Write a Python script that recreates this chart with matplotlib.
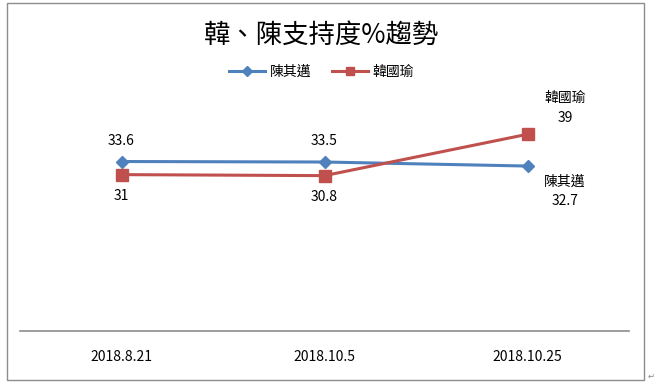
import matplotlib.pyplot as plt
from matplotlib.patches import Rectangle

plt.rcParams["font.family"] = ["Noto Sans CJK TC", "DejaVu Sans"]

dates = ["2018.8.21", "2018.10.5", "2018.10.25"]
chen = [33.6, 33.5, 32.7]
han = [31, 30.8, 39]
chen_name = "陳其邁"
han_name = "韓國瑜"
title = "韓、陳支持度%趨勢"

blue = "#4F81BD"
red = "#C0504D"

fig = plt.figure(figsize=(6.56, 3.86), dpi=100)
ax = fig.add_axes([20 / 656, 55 / 386, 609 / 656, 227 / 386])

x = list(range(len(dates)))
ax.plot(x, chen, color=blue, lw=2.2, marker="D", ms=6, label=chen_name)
ax.plot(x, han, color=red, lw=2.2, marker="s", ms=8, label=han_name)

ax.set_xlim(-0.5, 2.5)
ax.set_ylim(0, 45)
ax.set_yticks([])
ax.set_xticks(x)
ax.set_xticklabels(dates, fontsize=10)
ax.tick_params(axis="x", length=0, pad=14)
for side in ["top", "left", "right"]:
    ax.spines[side].set_visible(False)
ax.spines["bottom"].set_color("#8C8C8C")
ax.spines["bottom"].set_linewidth(1.2)

# data labels: first two points
for i in range(2):
    ax.annotate(f"{chen[i]:g}", (x[i], chen[i]), xytext=(0, 10), textcoords="offset points",
                ha="center", va="bottom", fontsize=10)
    ax.annotate(f"{han[i]:g}", (x[i], han[i]), xytext=(0, -10), textcoords="offset points",
                ha="center", va="top", fontsize=10)
# last point labels with series name
ax.annotate(f"{han_name}\n{han[2]:g}", (x[2], han[2]), xytext=(27, 7), textcoords="offset points",
            ha="center", va="bottom", fontsize=10, linespacing=1.5)
ax.annotate(f"{chen_name}\n{chen[2]:g}", (x[2], chen[2]), xytext=(27, -6), textcoords="offset points",
            ha="center", va="top", fontsize=10, linespacing=1.5)

fig.text(0.49, 1 - 35 / 386, title, ha="center", va="center", fontsize=19)
fig.legend(loc="center", bbox_to_anchor=(0.49, 1 - 72 / 386), ncol=2, frameon=False,
           fontsize=10, handlelength=2.6, columnspacing=1.5, handletextpad=0.3, markerscale=0.8)

fig.patches.append(Rectangle((7 / 656, 6 / 386), 637 / 656, 377 / 386, transform=fig.transFigure,
                             fill=False, edgecolor="#8C8C8C", lw=1))
fig.text(648 / 656, 1 - 376 / 386, "↵", fontsize=6, color="#888888", ha="left", va="center")

fig.savefig("out.png", dpi=100)
